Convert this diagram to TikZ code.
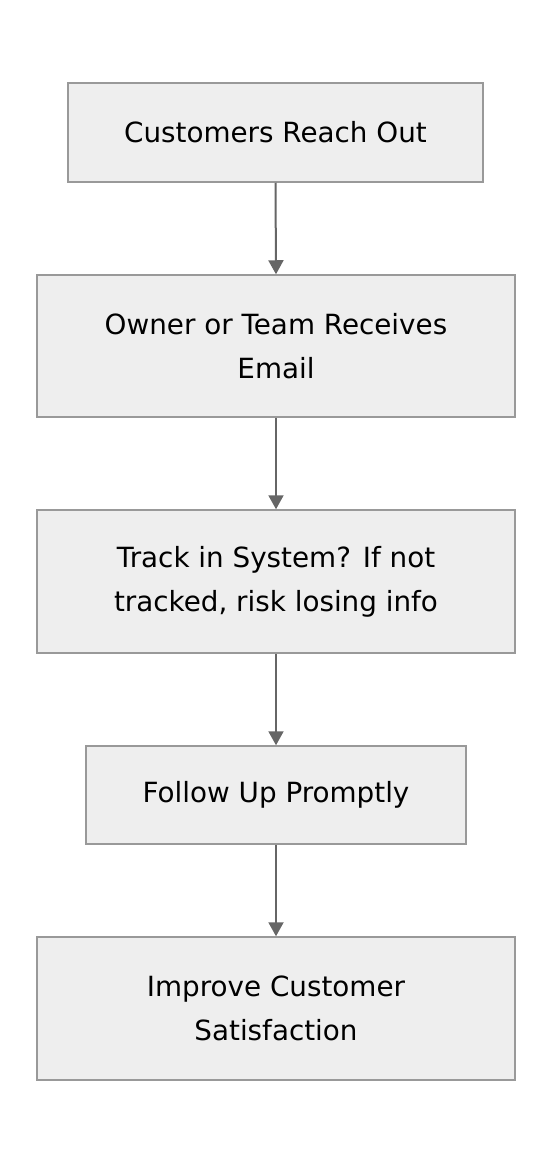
\documentclass[tikz,border=0pt]{standalone}
\usepackage{fontspec}
\setmainfont{DejaVu Sans}
\usetikzlibrary{arrows.meta}
\definecolor{boxfill}{HTML}{EEEEEE}
\definecolor{boxline}{HTML}{999999}
\definecolor{arrowc}{HTML}{666666}
\tikzset{
  stepbox/.style={draw=boxline, fill=boxfill, line width=1.5pt, align=center,
    font=\fontsize{27.8}{44}\selectfont, inner sep=0pt},
  flow/.style={draw=arrowc, line width=2pt, -{Triangle[length=14pt,width=15pt]}}
}
\begin{document}
\begin{tikzpicture}[x=1pt,y=-1pt]
\useasboundingbox (0,0) rectangle (552,1164);
\node[stepbox, minimum width=415pt, minimum height=99pt] (a) at (275.5,132.5) {Customers Reach Out};
\node[stepbox, minimum width=478pt, minimum height=142pt] (b) at (276,346) {Owner or Team Receives\\Email};
\node[stepbox, minimum width=478pt, minimum height=143pt] (c) at (276,581.5) {Track in System? If not\\tracked, risk losing info};
\node[stepbox, minimum width=380pt, minimum height=98pt] (d) at (276,795) {Follow Up Promptly};
\node[stepbox, minimum width=478pt, minimum height=143pt] (e) at (276,1008.5) {Improve Customer\\Satisfaction};
\draw[flow] (a.south) -- (b.north);
\draw[flow] (b.south) -- (c.north);
\draw[flow] (c.south) -- (d.north);
\draw[flow] (d.south) -- (e.north);
\end{tikzpicture}
\end{document}
